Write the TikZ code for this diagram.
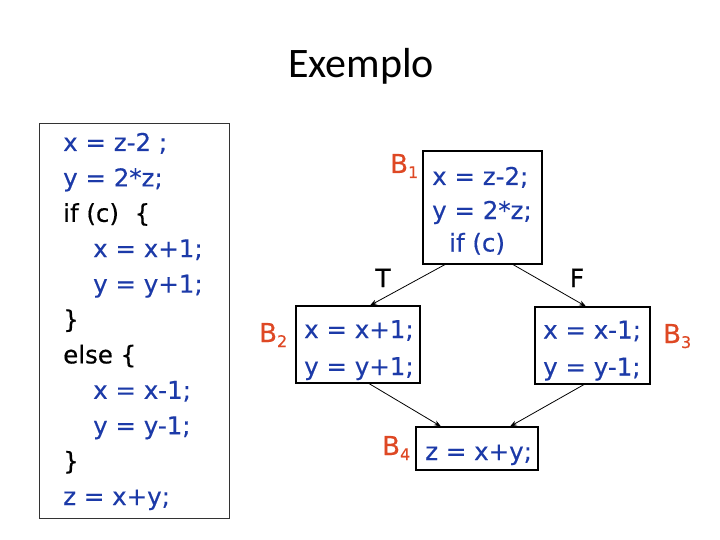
\documentclass[tikz,border=0pt]{standalone}
\usepackage{fontspec}
\setmainfont{DejaVu Sans}[FakeBold=0.4]
\newfontfamily\titlefont{Carlito}
\usetikzlibrary{arrows.meta}
\definecolor{codeblue}{RGB}{28,58,168}
\definecolor{labred}{RGB}{222,72,36}
\tikzset{
  code/.style={font=\fontsize{24.5}{35}\selectfont, text=codeblue, inner sep=0pt, anchor=base west},
  codeblk/.style={font=\fontsize{24.5}{35}\selectfont, text=black, inner sep=0pt, anchor=base west},
  blk/.style={draw=black, line width=1.1pt, inner sep=0pt},
  blabel/.style={text=labred, font=\fontsize{26}{26}\selectfont, inner sep=0pt, anchor=base west},
  tf/.style={text=black, font=\fontsize{25}{25}\selectfont, inner sep=0pt, anchor=base},
  flow/.style={draw=black, line width=0.8pt, -{Stealth[length=7pt,width=5pt]}}
}
\newcommand{\bsub}[1]{B\raisebox{-5pt}{\fontsize{16}{16}\selectfont #1}}
\begin{document}
\begin{tikzpicture}[x=1pt,y=-1pt]
\useasboundingbox (0,0) rectangle (720,540);
% title
\node[font=\titlefont\fontsize{42}{42}\selectfont, anchor=base, inner sep=0pt] (title) at (361,78) {Exemplo};
% source listing
\node[draw=black!80, line width=0.9pt, minimum width=190pt, minimum height=395pt, inner sep=0pt] (src) at (134,320.5) {};
\node[code] (l1) at (63,151) {x = z-2 ;};
\node[code] (l2) at (63,186.4) {y = 2*z;};
\node[codeblk] (l3) at (63,221.8) {if (c)\ \ \{};
\node[code] (l4) at (93,257.2) {x = x+1;};
\node[code] (l5) at (93,292.6) {y = y+1;};
\node[codeblk] (l6) at (63,328) {\}};
\node[codeblk] (l7) at (63,363.4) {else \{};
\node[code] (l8) at (93,398.8) {x = x-1;};
\node[code] (l9) at (93,434.2) {y = y-1;};
\node[codeblk] (l10) at (63,469.6) {\}};
\node[code] (l11) at (63,505) {z = x+y;};
% basic blocks
\node[blk, minimum width=119pt, minimum height=113pt] (b1) at (482.5,207.5) {};
\node[code] (b1a) at (432,185) {x = z-2;};
\node[code] (b1b) at (432,219) {y = 2*z;};
\node[code] (b1c) at (449,251.5) {if (c)};
\node[blk, minimum width=124pt, minimum height=77pt] (b2) at (358,344.5) {};
\node[code] (b2a) at (304,338) {x = x+1;};
\node[code] (b2b) at (304,375) {y = y+1;};
\node[blk, minimum width=115pt, minimum height=77pt] (b3) at (592.5,345.5) {};
\node[code] (b3a) at (543,338.5) {x = x-1;};
\node[code] (b3b) at (543,375.5) {y = y-1;};
\node[blk, minimum width=122pt, minimum height=43pt] (b4) at (477,448.5) {};
\node[code] (b4a) at (425,460) {z = x+y;};
% labels
\node[blabel] (lb1) at (390,173) {\bsub{1}};
\node[blabel] (lb2) at (259,342) {\bsub{2}};
\node[blabel] (lb3) at (663,343) {\bsub{3}};
\node[blabel] (lb4) at (382,455) {\bsub{4}};
\node[tf] (t) at (383,287) {T};
\node[tf] (f) at (577,287) {F};
% edges
\draw[flow] ([xshift=-37.5pt]b1.south) -- ([xshift=12pt]b2.north);
\draw[flow] ([xshift=30.5pt]b1.south) -- ([xshift=-6.5pt]b3.north);
\draw[flow] ([xshift=11pt]b2.south) -- ([xshift=-36pt]b4.north);
\draw[flow] ([xshift=-8.5pt]b3.south) -- ([xshift=33pt]b4.north);
\end{tikzpicture}
\end{document}
